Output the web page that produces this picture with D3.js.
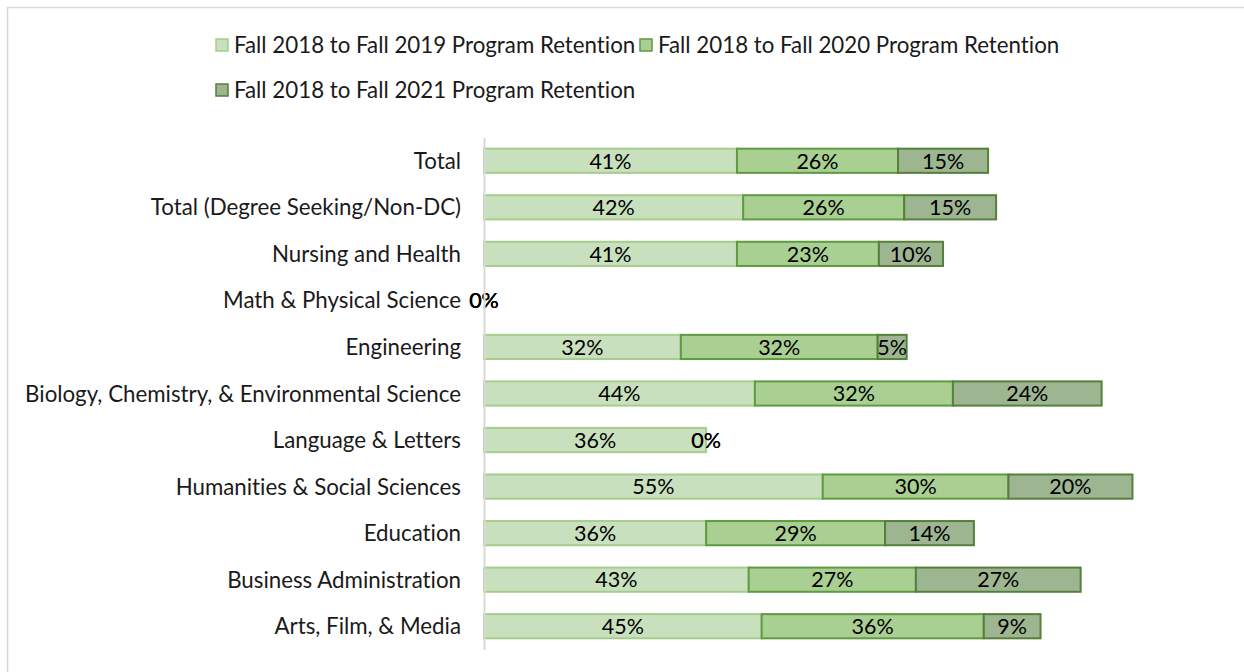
<!DOCTYPE html>
<html><head><meta charset="utf-8">
<script src="https://cdn.jsdelivr.net/npm/d3@7"></script>
<style>
html,body{margin:0;padding:0;background:#fff;}
svg{display:block;font-family:Lato,"Open Sans",sans-serif;font-variant-ligatures:none;font-feature-settings:"liga" 0;}
</style></head>
<body>
<svg id="chart" width="1244" height="672"></svg>
<script>
const categories = ["Total","Total (Degree Seeking/Non-DC)","Nursing and Health","Math & Physical Science","Engineering","Biology, Chemistry, & Environmental Science","Language & Letters","Humanities & Social Sciences","Education","Business Administration","Arts, Film, & Media"];
const seriesNames = ["Fall 2018 to Fall 2019 Program Retention","Fall 2018 to Fall 2020 Program Retention","Fall 2018 to Fall 2021 Program Retention"];
const retention2019 = [0.410,0.420,0.410,0,0.319,0.439,0.360,0.549,0.360,0.429,0.450];
const retention2020 = [0.261,0.261,0.230,0,0.319,0.321,0,0.301,0.290,0.271,0.360];
const retention2021 = [0.146,0.149,0.104,0,0.047,0.241,0,0.201,0.144,0.267,0.092];
const fills = ["#c8e0bd","#a9cf92","#9db591"];
const strokes = ["#a6cd8d","#5e9b3f","#55803a"];

const svg = d3.select("#chart");
const W = 1244, H = 672;
const FS = 22.3;
const FSB = 21.5;

// outer border
svg.append("rect").attr("x",7.5).attr("y",7.5).attr("width",W).attr("height",H)
  .attr("fill","none").attr("stroke","#d9d9d9").attr("stroke-width",1.5);

const x = d3.scaleLinear().domain([0,1]).range([484,1101]);
const y = d3.scaleBand().domain(categories).range([137.5,649.5]).paddingInner(0.48).paddingOuter(0.24);

const rows = categories.map((c,i)=>({cat:c, vals:[retention2019[i],retention2020[i],retention2021[i]]}));
const stack = d3.stack().keys([0,1,2]).value((d,k)=>d.vals[k]);
const stacked = stack(rows);

const g = svg.append("g");
stacked.forEach((layer,k)=>{
  g.selectAll(null).data(layer).enter().append("rect")
    .attr("x",d=>x(d[0])).attr("y",d=>y(d.data.cat))
    .attr("width",d=>Math.max(0,x(d[1])-x(d[0])))
    .attr("height",y.bandwidth())
    .attr("fill",fills[k]).attr("stroke",strokes[k]).attr("stroke-width",2)
    .attr("display",d=>d[1]-d[0]>0?null:"none");
});
const fmt = d3.format(".0%");
stacked.forEach((layer,k)=>{
  g.selectAll(null).data(layer).enter().append("text")
    .attr("x",d=>(x(d[0])+x(d[1]))/2).attr("y",d=>y(d.data.cat)+y.bandwidth()/2)
    .attr("dy","0.36em").attr("text-anchor","middle")
    .attr("font-size",FSB).attr("fill","#000")
    .text(d=>fmt(d[1]-d[0]));
});

// axis
const yAxis = d3.axisLeft(y).tickSize(0).tickPadding(23);
const ax = svg.append("g").attr("transform","translate(484,0)").call(yAxis);
ax.select(".domain").attr("stroke","#d9d9d9").attr("stroke-width",2);
ax.selectAll("text").attr("font-size",FS).attr("fill","#1a1a1a").attr("font-family","Lato,'Open Sans',sans-serif").attr("dy","0.36em");

// legend
const legendPos = [[216,45],[640,45],[216,90]];
const lg = svg.append("g");
seriesNames.forEach((n,k)=>{
  const [lx,ly] = legendPos[k];
  lg.append("rect").attr("x",lx).attr("y",ly-6).attr("width",12).attr("height",12)
    .attr("fill",fills[k]).attr("stroke",strokes[k]).attr("stroke-width",1.5);
  lg.append("text").attr("x",lx+18).attr("y",ly).attr("dy","0.36em")
    .attr("font-size",FS).attr("fill","#1a1a1a").text(n);
});
</script>
</body></html>
